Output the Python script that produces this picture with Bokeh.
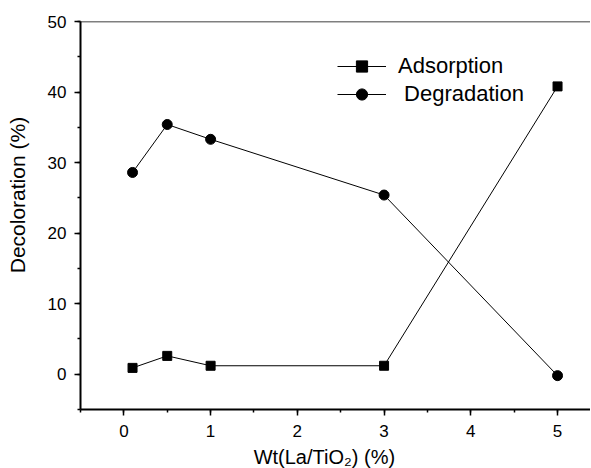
from bokeh.plotting import figure
from bokeh.models import Range1d, SingleIntervalTicker, LinearAxis, Legend, LegendItem, Span
from bokeh.embed import file_html
from bokeh.resources import INLINE

# Data
wt = [0.1, 0.5, 1, 3, 5]
adsorption = [0.9, 2.6, 1.2, 1.2, 40.8]
degradation = [28.6, 35.4, 33.3, 25.4, -0.2]

x_label = "Wt(La/TiO\u2082)  (%)" + "\u00a0" * 3
y_label = "\u00a0" * 7 + "Decoloration (%)"
series_names = ["Adsorption", "\u00a0Degradation"]

FONT = "Liberation Sans"

p = figure(width=590, height=471, output_backend="svg", toolbar_location=None,
           x_range=Range1d(-0.5, 5.38), y_range=Range1d(-5, 50),
           x_axis_type=None, y_axis_type=None,
           min_border_left=80, min_border_right=0, min_border_top=21, min_border_bottom=62)
p.outline_line_color = None
p.xgrid.visible = False
p.ygrid.visible = False
p.background_fill_color = "white"
p.border_fill_color = "white"

xaxis = LinearAxis(ticker=SingleIntervalTicker(interval=1, num_minor_ticks=2))
yaxis = LinearAxis(ticker=SingleIntervalTicker(interval=10, num_minor_ticks=2))
for ax in (xaxis, yaxis):
    ax.axis_line_width = 2
    ax.axis_line_color = "black"
    ax.major_tick_in = 0
    ax.major_tick_out = 6
    ax.minor_tick_in = 0
    ax.minor_tick_out = 3
    ax.major_tick_line_width = 1.5
    ax.minor_tick_line_width = 1.5
    ax.major_tick_line_color = "black"
    ax.minor_tick_line_color = "black"
    ax.major_label_text_font = FONT
    ax.major_label_text_font_size = "17px"
    ax.major_label_text_color = "black"
    ax.axis_label_text_font = FONT
    ax.axis_label_text_font_style = "normal"
    ax.axis_label_text_color = "black"

xaxis.axis_label = x_label
xaxis.axis_label_text_font_size = "20px"
xaxis.major_label_standoff = 9
xaxis.axis_label_standoff = 6

yaxis.axis_label = y_label
yaxis.axis_label_text_font_size = "21px"
yaxis.major_label_standoff = 8
yaxis.axis_label_standoff = 16

p.add_layout(xaxis, "below")
p.add_layout(yaxis, "left")

p.add_layout(Span(location=50, dimension="width", line_color="black", line_width=1.3))

la = p.line(wt, adsorption, line_color="black", line_width=1)
sa = p.scatter(wt, adsorption, marker="square", size=9, fill_color="black", line_color="black")
ld = p.line(wt, degradation, line_color="black", line_width=1)
sd = p.scatter(wt, degradation, marker="circle", size=10, fill_color="black", line_color="black")

legend = Legend(items=[LegendItem(label=series_names[0], renderers=[la, sa]),
                       LegendItem(label=series_names[1], renderers=[ld, sd])],
                location=(257, 301), glyph_width=49, glyph_height=28, label_height=28,
                label_standoff=12, spacing=0, padding=0, margin=0,
                border_line_color=None, background_fill_alpha=0,
                label_text_font=FONT, label_text_font_size="22px", label_text_color="black")
p.add_layout(legend)

open("out.html", "w").write(file_html(p, INLINE))
